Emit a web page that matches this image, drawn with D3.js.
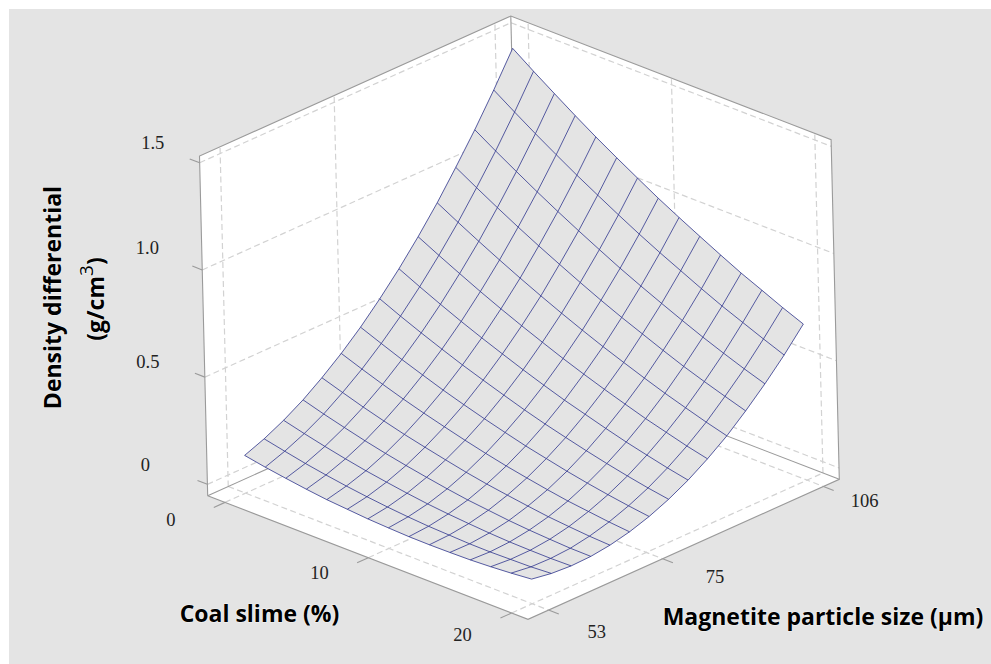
<!DOCTYPE html>
<html><head><meta charset="utf-8">
<script src="https://cdnjs.cloudflare.com/ajax/libs/d3/7.8.5/d3.min.js"></script>
<style>html,body{margin:0;padding:0;background:#fff}svg{display:block}</style>
</head><body><svg id="c" width="991" height="664"></svg>
<script>
// ---- data ----
const coalTicks = [0, 10, 20];
const magnetiteTicks = [53, 75, 106];
const densityTicks = [0, 0.5, 1.0, 1.5];
const densityTickLabels = ["0", "0.5", "1.0", "1.5"];
const coalLevels = [0, 1.43, 2.86, 4.29, 5.71, 7.14, 8.57, 10, 11.43, 12.86, 14.29, 15.71, 17.14, 18.57, 20];
const magnetiteLevels = [53, 56.8, 60.6, 64.4, 68.1, 71.9, 75.7, 79.5, 83.3, 87.1, 90.9, 94.6, 98.4, 102.2, 106];
// density differential: one row per magnetite level, one column per coal level
const densityRows = [
 [.123,.105,.090,.076,.064,.056,.048,.043,.039,.038,.039,.041,.046,.053,.062],
 [.159,.138,.118,.101,.086,.073,.062,.053,.046,.042,.038,.037,.039,.041,.047],
 [.204,.179,.156,.135,.116,.100,.085,.072,.062,.054,.047,.042,.040,.039,.041],
 [.258,.229,.203,.178,.156,.136,.118,.101,.086,.075,.064,.056,.050,.045,.044],
 [.321,.289,.258,.230,.204,.181,.159,.138,.120,.105,.091,.078,.069,.061,.056],
 [.393,.357,.323,.291,.262,.235,.209,.185,.163,.144,.126,.110,.098,.086,.077],
 [.474,.435,.397,.362,.328,.297,.268,.241,.215,.193,.171,.152,.135,.120,.107],
 [.565,.521,.480,.441,.404,.370,.337,.305,.276,.250,.225,.202,.181,.162,.146],
 [.664,.617,.572,.529,.489,.451,.414,.379,.346,.317,.288,.261,.237,.214,.194],
 [.772,.722,.674,.627,.583,.541,.501,.462,.426,.392,.360,.329,.302,.275,.252],
 [.889,.835,.783,.733,.685,.639,.595,.553,.513,.476,.440,.406,.375,.345,.318],
 [1.014,.956,.900,.846,.795,.746,.698,.652,.609,.569,.529,.491,.457,.425,.394],
 [1.148,1.086,1.027,.969,.914,.861,.810,.760,.714,.670,.627,.586,.548,.512,.479],
 [1.292,1.226,1.162,1.101,1.042,.986,.931,.878,.828,.781,.734,.690,.650,.610,.572],
 [1.445,1.375,1.308,1.242,1.179,1.119,1.061,1.004,.951,.900,.850,.802,.759,.715,.675]
];
const coalTitle = "Coal slime (%)";
const magnetiteTitle = "Magnetite particle size (µm)";
const densityTitle = "Density differential";

// ---- layout ----
const W = 991, H = 664;
const corner = [207.7, 495.7];          // floor corner at low coal / low magnetite
const coalVec = [320.3, 123.6];
const magVec = [311.3, -140];
const upVec = [-5.18, -214.4];          // screen shift per unit of density
const coalFrac = d3.scaleLinear().domain([0, 20]).range([0.054, 0.949]);
const magFrac = d3.scaleLinear().domain([53, 106]).range([0.066, 0.949]);
const densUnits = d3.scaleLinear().domain([0, 1.5]).range([0.053, 1.553]);
const cMin = coalFrac.invert(0), cMax = coalFrac.invert(1);
const mMin = magFrac.invert(0), mMax = magFrac.invert(1);
const dMin = densUnits.invert(0), dMax = densUnits.invert(1.584);
const P = (c, m, d) => {
  const t = coalFrac(c), s = magFrac(m), h = densUnits(d);
  return [corner[0] + t*coalVec[0] + s*magVec[0] + h*upVec[0],
          corner[1] + t*coalVec[1] + s*magVec[1] + h*upVec[1]];
};
const svg = d3.select("#c");
const line = d3.line();

svg.append("rect").attr("x", 9).attr("y", 9).attr("width", W-9).attr("height", H-9).attr("fill", "#e4e4e4");

// box walls and floor
const walls = svg.append("g");
walls.append("path").attr("fill", "#fff").attr("d", line([
  P(cMin,mMin,dMax), P(cMin,mMax,dMax), P(cMax,mMax,dMax), P(cMax,mMax,dMin), P(cMax,mMin,dMin), P(cMin,mMin,dMin)
]) + "Z");

// dashed grid
const grid = svg.append("g").attr("fill", "none").attr("stroke", "#d2d2d2").attr("stroke-width", 1.2).attr("stroke-dasharray", "6 3.5");
const gl = pts => grid.append("path").attr("d", line(pts));
densityTicks.forEach(d => { gl([P(cMin,mMin,d), P(cMin,mMax,d)]); gl([P(cMin,mMax,d), P(cMax,mMax,d)]); });
magnetiteTicks.forEach(m => { gl([P(cMin,m,dMin), P(cMin,m,dMax)]); gl([P(cMin,m,dMin), P(cMax,m,dMin)]); });
coalTicks.forEach(c => { gl([P(c,mMax,dMin), P(c,mMax,dMax)]); gl([P(c,mMin,dMin), P(c,mMax,dMin)]); });

// solid box edges
const edges = svg.append("g").attr("fill", "none").attr("stroke", "#9a9a9a").attr("stroke-width", 1.1);
const el = pts => edges.append("path").attr("d", line(pts));
el([P(cMin,mMin,dMin), P(cMin,mMin,dMax), P(cMin,mMax,dMax), P(cMax,mMax,dMax), P(cMax,mMax,dMin), P(cMax,mMin,dMin), P(cMin,mMin,dMin)]);
el([P(cMin,mMax,dMax), P(cMin,mMax,dMin)]);
el([P(cMin,mMin,dMin), P(cMin,mMax,dMin)]);
el([P(cMax,mMax,dMin), P(cMin,mMax,dMin)]);

// ticks
coalTicks.forEach(c => el([P(c,mMin,dMin), P(c,magFrac.invert(-0.036),dMin)]));
magnetiteTicks.forEach(m => el([P(cMax,m,dMin), P(coalFrac.invert(1.032),m,dMin)]));
densityTicks.forEach(d => el([P(cMin,mMin,d), P(coalFrac.invert(-0.031),mMin,d)]));

// surface
const surf = svg.append("g");
const pt = (i, j) => P(coalLevels[i], magnetiteLevels[j], densityRows[j][i]);
for (let j = magnetiteLevels.length - 2; j >= 0; j--) {
  for (let i = 0; i < coalLevels.length - 1; i++) {
    surf.append("path").attr("d", line([pt(i,j), pt(i+1,j), pt(i+1,j+1), pt(i,j+1)]) + "Z")
      .attr("fill", "#e4e4e4").attr("stroke", "#e4e4e4").attr("stroke-width", 0.4);
  }
}
const mesh = svg.append("g").attr("fill", "none").attr("stroke", "#1c2284").attr("stroke-opacity", 0.72).attr("stroke-width", 1);
magnetiteLevels.forEach((_, j) => mesh.append("path").attr("d", line(coalLevels.map((_, i) => pt(i,j)))));
coalLevels.forEach((_, i) => mesh.append("path").attr("d", line(magnetiteLevels.map((_, j) => pt(i,j)))));

// tick labels
const tl = svg.append("g").attr("font-family", "'Liberation Serif'").attr("font-size", 18.5).attr("fill", "#222")
  .attr("text-anchor", "middle").attr("dominant-baseline", "central");
const coalLabelOff = [[-43, 13], [-37.5, 10.6], [-38, 17]];
const magLabelOff = [[38, 18], [42, 14], [31, 11]];
const densLabelOff = [[-52, -16], [-47, -11], [-45, -18], [-37, -16]];
coalTicks.forEach((c, k) => { const p = P(c, magFrac.invert(-0.036), dMin); tl.append("text").attr("x", p[0]+coalLabelOff[k][0]).attr("y", p[1]+coalLabelOff[k][1]).text(c); });
magnetiteTicks.forEach((m, k) => { const p = P(coalFrac.invert(1.032), m, dMin); tl.append("text").attr("x", p[0]+magLabelOff[k][0]).attr("y", p[1]+magLabelOff[k][1]).text(m); });
densityTicks.forEach((d, k) => { const p = P(coalFrac.invert(-0.031), mMin, d); tl.append("text").attr("x", p[0]+densLabelOff[k][0]).attr("y", p[1]+densLabelOff[k][1]).text(densityTickLabels[k]); });

// axis titles
const titles = svg.append("g").attr("font-family", "'Open Sans'").attr("font-weight", 700).attr("font-size", 23).attr("fill", "#000")
  .attr("text-anchor", "middle").attr("dominant-baseline", "central")
  .attr("stroke", "#f4f4f4").attr("stroke-width", 1.2).style("paint-order", "stroke");
titles.append("text").attr("x", 259.5).attr("y", 613).text(coalTitle);
titles.append("text").attr("x", 823).attr("y", 616).text(magnetiteTitle);
titles.append("text").attr("transform", "translate(52,297.5) rotate(-90)").text(densityTitle);
const unit = titles.append("text").attr("transform", "translate(95,299) rotate(-90)");
unit.append("tspan").text("(g/cm");
unit.append("tspan").attr("dy", -9).attr("font-size", 19).attr("font-weight", 400).text("3");
unit.append("tspan").attr("dy", 9).text(")");
</script></body></html>
